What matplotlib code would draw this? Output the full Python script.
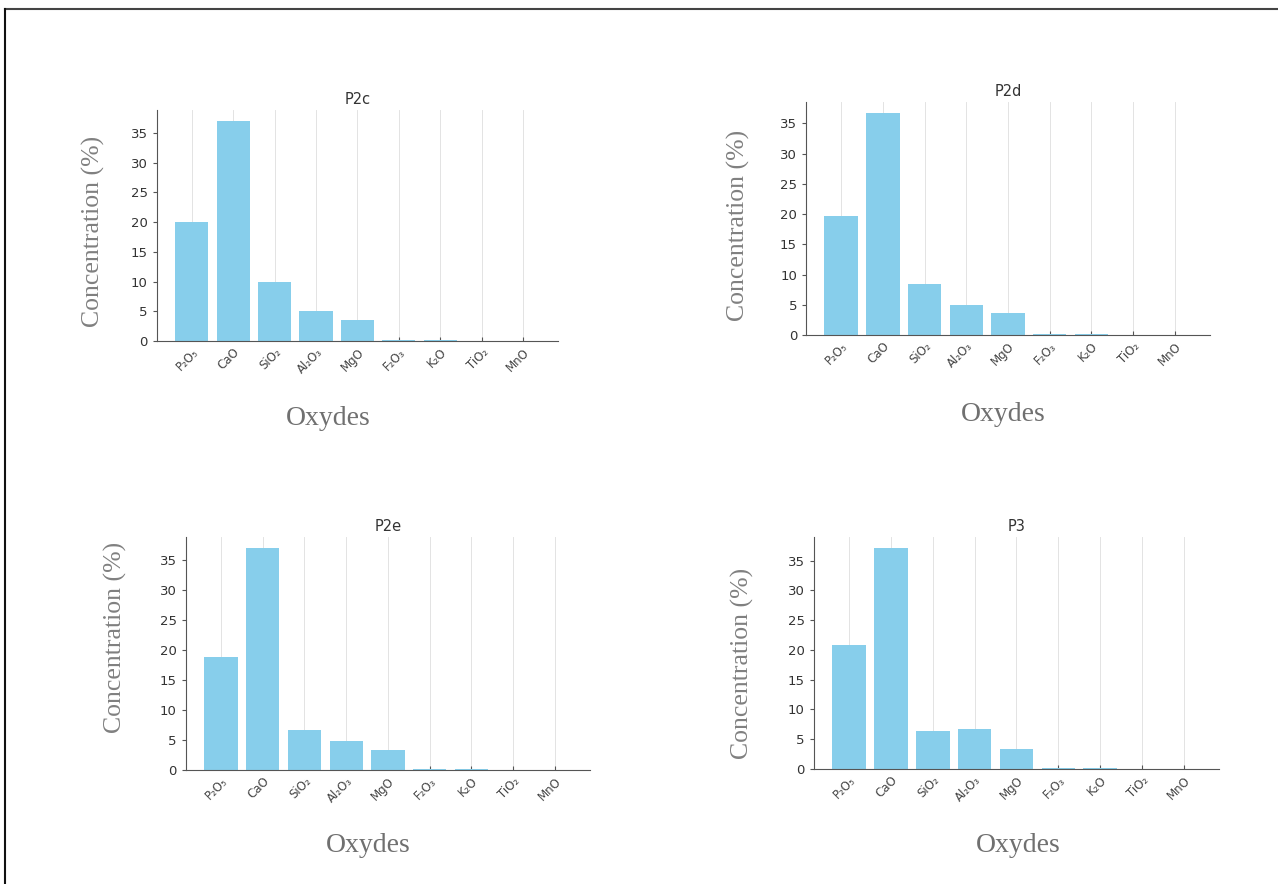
import matplotlib.pyplot as plt
from matplotlib.lines import Line2D

oxides = ['P₂O₅', 'CaO', 'SiO₂', 'Al₂O₃', 'MgO', 'F₂O₃', 'K₂O', 'TiO₂', 'MnO']

p2c = [20.0, 37.0, 9.9, 5.1, 3.6, 0.1, 0.2, 0.0, 0.0]
p2d = [19.7, 36.7, 8.4, 5.0, 3.7, 0.1, 0.2, 0.0, 0.0]
p2e = [18.9, 37.0, 6.7, 4.9, 3.4, 0.1, 0.2, 0.0, 0.0]
p3 = [20.9, 37.1, 6.3, 6.8, 3.3, 0.1, 0.2, 0.0, 0.0]

samples = ['P2c', 'P2d', 'P2e', 'P3']
values = [p2c, p2d, p2e, p3]

# axes boxes [left, bottom, width, height] and label anchors in figure fraction
boxes = [
    [0.1228, 0.6143, 0.3138, 0.2613],
    [0.6307, 0.6210, 0.3161, 0.2636],
    [0.1455, 0.1290, 0.3161, 0.2636],
    [0.6369, 0.1301, 0.3169, 0.2624],
]
ylabel_pos = [(0.073, 0.738), (0.578, 0.745), (0.090, 0.279), (0.581, 0.249)]
xlabel_pos = [(0.257, 0.527), (0.785, 0.531), (0.288, 0.043), (0.797, 0.044)]

fig = plt.figure(figsize=(12.78, 8.84), dpi=100)

for name, vals, box, yl, xl in zip(samples, values, boxes, ylabel_pos, xlabel_pos):
    ax = fig.add_axes(box)
    ax.bar(range(len(oxides)), vals, width=0.8, color='skyblue', zorder=2)
    ax.set_xticks(range(len(oxides)))
    ax.set_xticklabels(oxides, rotation=45, ha='right', rotation_mode='anchor',
                       fontsize=8.5, color='#444444')
    ax.tick_params(axis='y', labelsize=9.5, labelcolor='#333333', length=3,
                   color='#555555')
    ax.tick_params(axis='x', length=3, direction='in', color='#555555')
    ax.set_yticks([0, 5, 10, 15, 20, 25, 30, 35])
    ax.grid(axis='x', color='#e3e3e3', linewidth=0.7, zorder=0)
    for side in ['top', 'right']:
        ax.spines[side].set_visible(False)
    for side in ['left', 'bottom']:
        ax.spines[side].set_color('#555555')
    ax.set_title(name, fontsize=10.5, color='#333333', pad=4)
    fig.text(yl[0], yl[1], 'Concentration (%)', rotation=90, ha='center',
             va='center', fontsize=18.5, color='#808080', family='Liberation Serif')
    fig.text(xl[0], xl[1], 'Oxydes', ha='center', va='center', fontsize=20,
             color='#707070', family='Liberation Serif')

# frame lines along the top and left edges
fig.add_artist(Line2D([0.004, 1.0], [0.9895, 0.9895], transform=fig.transFigure,
                      color='#444444', linewidth=1.5))
fig.add_artist(Line2D([0.004, 0.004], [0.0, 0.9895], transform=fig.transFigure,
                      color='#111111', linewidth=1.5))

fig.savefig('out.png', dpi=100)
